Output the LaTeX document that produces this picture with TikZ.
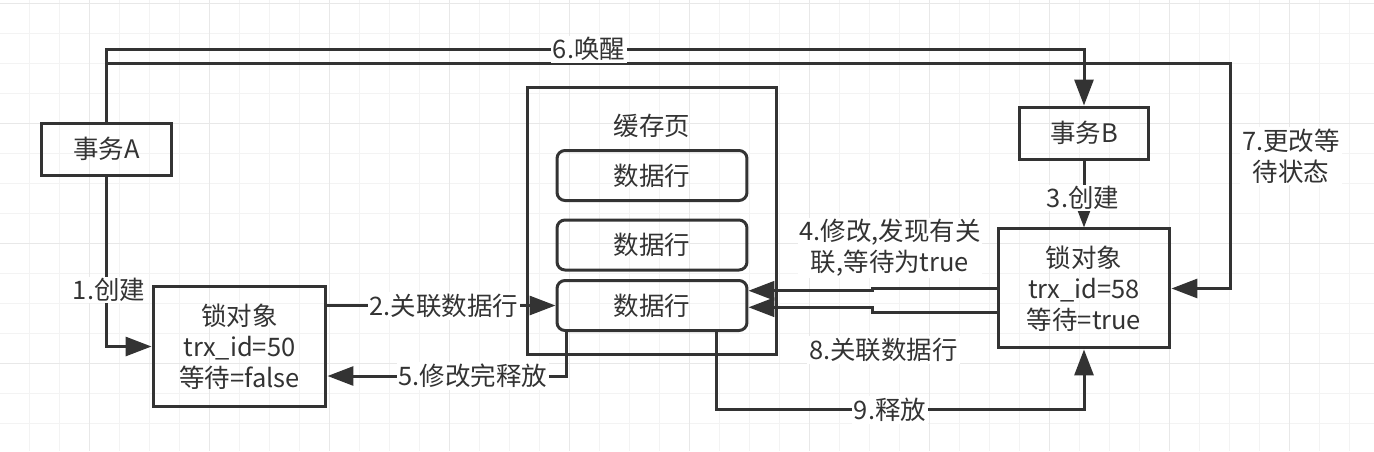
\documentclass[tikz,border=0pt]{standalone}
\usepackage{fontspec}
\newfontfamily\cjk{Noto Sans CJK SC}
\usepackage{tikz}
\usetikzlibrary{arrows.meta, positioning, calc}
\definecolor{colorInk}{HTML}{333333}
\definecolor{colorGrid}{HTML}{F3F3F3}
\definecolor{colorGridMajor}{HTML}{E8E8E8}
\tikzset{
  box/.style={draw=colorInk, line width=0.06cm, align=center, minimum width=2.6cm, minimum height=1.04cm, inner sep=0pt},
  rowbox/.style={box, rounded corners=0.16cm, minimum width=3.8cm, minimum height=1cm},
  lbl/.style={fill=white, inner sep=1pt, align=center},
  wire/.style={->, draw=colorInk, line width=0.06cm},
}

\begin{document}
\begin{tikzpicture}[x=0.02cm, y=-0.02cm, >={Triangle[length=0.52cm, width=0.38cm]}, node distance=1cm, every node/.style={text=colorInk, font=\cjk\fontsize{14.5pt}{17.6pt}\selectfont}]
\fill[white] (0,0) rectangle (1374,451);
\useasboundingbox (0,0) rectangle (1374,451);
% grid
\foreach \gx in {0,...,44} \draw[colorGrid, line width=0.035cm] ({29.5+30*\gx},0) -- ++(0,451);
\foreach \gy in {0,...,14} \draw[colorGrid, line width=0.035cm] (0,{3.5+30*\gy}) -- ++(1374,0);
\foreach \gx in {0,...,10} \draw[colorGridMajor, line width=0.035cm] ({89.5+120*\gx},0) -- ++(0,451);
\foreach \gy in {0,...,3} \draw[colorGridMajor, line width=0.035cm] (0,{3.5+120*\gy}) -- ++(1374,0);

% boxes
\node[box] (tA) at (106.5,149) {事务A};
\node[box] (tB) at (1084,133) {事务B};
\node[box, minimum width=3.44cm, minimum height=2.38cm, below=1.34cm of tB] (lB) {锁对象\\trx\_id=58\\等待=true};
\node[box, minimum width=3.46cm, minimum height=2.42cm] (lA) at (239.5,346.5) {锁对象\\trx\_id=50\\等待=false};
\node[box, minimum width=5cm, minimum height=5.36cm] (pg) at (652,221) {};
\node (pgT) at (652,126) {缓存页};
\node[rowbox] (r1) at (652,175.5) {数据行};
\node[rowbox] (r2) at (652,245) {数据行};
\node[rowbox] (r3) at (652,305.5) {数据行};

% helper points
\coordinate (c6) at (589,49);
\coordinate (c7) at (1230,63);
\coordinate (c5) at (566,376);
\coordinate (c9) at (716,409);
\coordinate (c4) at (872,290.7);
\coordinate (c8) at (872,307.3);

% connectors
\draw[wire] (tA.south) |- (lA.west);
\draw[wire] (tA.north) |- (c6) -| (tB.north);
\draw[wire] (tA.north |- c7) -- (c7) |- (lB.east);
\draw[wire] (tB) -- (lB);
\draw[wire] (lA.east |- r3.west) -- (r3.west);
\draw[wire] (r3.south -| c5) |- (lA.east |- c5);
\draw[wire] (r3.south -| c9) -- (c9) -| (lB.south);
\draw[wire] (lB.west) -| (c4) -- (c4 -| r3.east);
\draw[wire] ($(lB.west)+(0,24.2)$) -| (c8) -- (c8 -| r3.east);

% labels
\node[lbl] (l1) at (109,290) {1.创建};
\node[lbl] (l2) at (444,306) {2.关联数据行};
\node[lbl] (l3) at (1083,198) {3.创建};
\node[lbl] (l4) at (890,248) {4.修改,发现有关\\联,等待为true};
\node[lbl] (l5) at (473,376) {5.修改完释放};
\node[lbl] (l6) at (c6) {6.唤醒};
\node[lbl] (l7) at (1291,156) {7.更改等\\待状态};
\node[lbl] (l8) at (883.5,350) {8.关联数据行};
\node[lbl] (l9) at (890,410) {9.释放};
\end{tikzpicture}
\end{document}
